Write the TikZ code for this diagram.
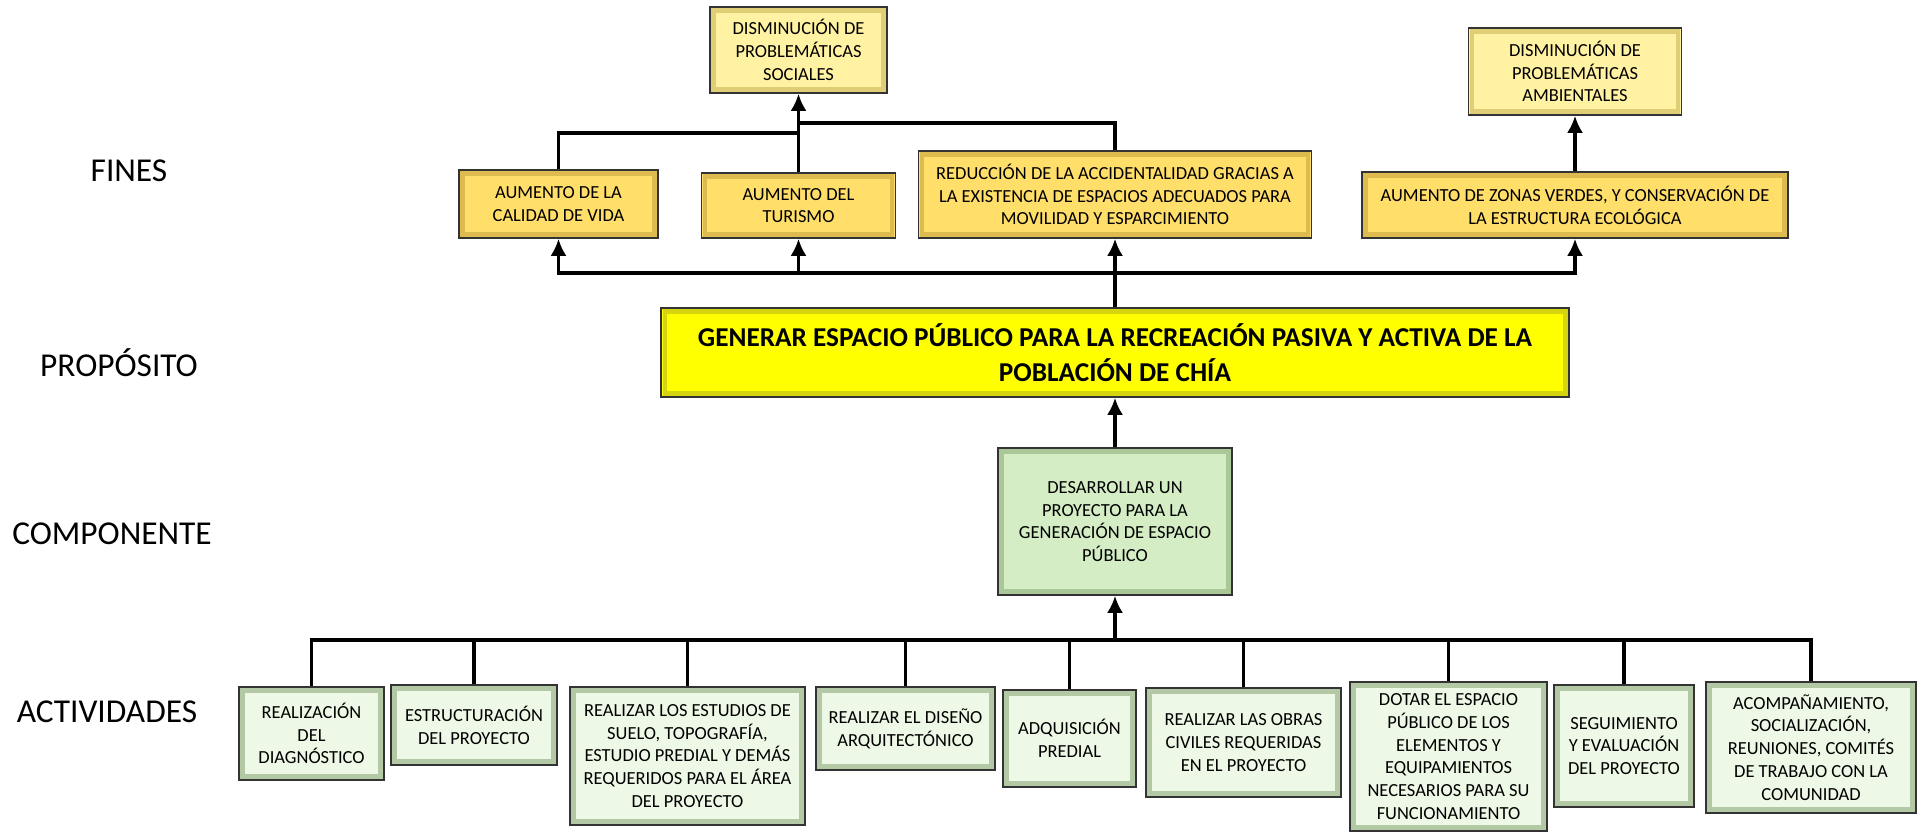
\documentclass[tikz,border=0pt]{standalone}
\usepackage{fontspec}
\setmainfont{Carlito}
\usetikzlibrary{arrows.meta,positioning}
\definecolor{fin_gold}{HTML}{FFDE6A}
\definecolor{fin_gold_rim}{HTML}{DDBB4E}
\definecolor{fin_light}{HTML}{FFF2A3}
\definecolor{fin_light_rim}{HTML}{E0CE76}
\definecolor{prop_yellow}{HTML}{FFFF00}
\definecolor{prop_rim}{HTML}{D6D610}
\definecolor{comp_green}{HTML}{D4EDC5}
\definecolor{comp_rim}{HTML}{AAC798}
\definecolor{act_green}{HTML}{EEF8E6}
\definecolor{act_rim}{HTML}{B3C8A4}

\begin{document}
\begin{tikzpicture}[
    auto,
    x=0.02cm, y=-0.02cm,
    levellabel/.style={align=center, font=\fontsize{19}{23}\selectfont},
    box/.style={rectangle, draw=black!80, line width=0.9pt, align=center, inner sep=1pt, font=\fontsize{10.5}{13}\selectfont},
    rim/.style={path picture={\draw[#1, line width=2.4pt] ([shift={(2pt,2pt)}]path picture bounding box.south west) rectangle ([shift={(-2pt,-2pt)}]path picture bounding box.north east);}},
    goldbox/.style={box, fill=fin_gold, rim=fin_gold_rim},
    lightbox/.style={box, fill=fin_light, rim=fin_light_rim},
    propbox/.style={box, fill=prop_yellow, rim=prop_rim, font=\fontsize{15.5}{20}\selectfont\bfseries},
    compbox/.style={box, fill=comp_green, rim=comp_rim},
    actbox/.style={box, fill=act_green, rim=act_rim},
    normalline/.style={-{Latex[length=3.4mm, width=3.2mm]}, line width=0.65mm},
    plainline/.style={line width=0.65mm},
  ]
  \useasboundingbox (0,0) rectangle (1923,832);

  % Levels
  \node[levellabel] (fineslabel) at (129,171) {FINES};
  \node[levellabel] (propositolabel) at (119,363) {PROPÓSITO};
  \node[levellabel] (componentelabel) at (112,534) {COMPONENTE};
  \node[levellabel] (actividadeslabel) at (107,712) {ACTIVIDADES};

  % Fines
  \node[lightbox, minimum width=3.54cm, minimum height=1.72cm] (social) at (798.5, 50) {DISMINUCIÓN DE\\PROBLEMÁTICAS\\SOCIALES};
  \node[lightbox, minimum width=4.26cm, minimum height=1.74cm] (ambiental) at (1575, 71.5) {DISMINUCIÓN DE\\PROBLEMÁTICAS\\AMBIENTALES};
  \node[goldbox, minimum width=3.98cm, minimum height=1.36cm] (calidad) at (558.5, 204) {AUMENTO DE LA\\CALIDAD DE VIDA};
  \node[goldbox, minimum width=3.88cm, minimum height=1.30cm] (turismo) at (798.5, 205.5) {AUMENTO DEL\\TURISMO};
  \node[goldbox, minimum width=7.86cm, minimum height=1.74cm] (reduccion) at (1115, 194.5) {REDUCCIÓN DE LA ACCIDENTALIDAD GRACIAS A\\LA EXISTENCIA DE ESPACIOS ADECUADOS PARA\\MOVILIDAD Y ESPARCIMIENTO};
  \node[goldbox, minimum width=8.52cm, minimum height=1.32cm] (zonas) at (1575, 205) {AUMENTO DE ZONAS VERDES, Y CONSERVACIÓN DE\\LA ESTRUCTURA ECOLÓGICA};

  % Proposito and componente
  \node[propbox, minimum width=18.16cm, minimum height=1.78cm] (proposito) at (1115, 352.5) {GENERAR ESPACIO PÚBLICO PARA LA RECREACIÓN PASIVA Y ACTIVA DE LA\\POBLACIÓN DE CHÍA};
  \node[compbox, minimum width=4.68cm, minimum height=2.94cm] (componente) at (1115, 521.5) {DESARROLLAR UN\\PROYECTO PARA LA\\GENERACIÓN DE ESPACIO\\PÚBLICO};

  % Actividades
  \node[actbox, minimum width=2.90cm, minimum height=1.86cm] (act1) at (311.5, 733.5) {REALIZACIÓN\\DEL\\DIAGNÓSTICO};
  \node[actbox, minimum width=3.32cm, minimum height=1.60cm] (act2) at (474, 725) {ESTRUCTURACIÓN\\DEL PROYECTO};
  \node[actbox, minimum width=4.70cm, minimum height=2.76cm] (act3) at (687.5, 756) {REALIZAR LOS ESTUDIOS DE\\SUELO, TOPOGRAFÍA,\\ESTUDIO PREDIAL Y DEMÁS\\REQUERIDOS PARA EL ÁREA\\DEL PROYECTO};
  \node[actbox, minimum width=3.58cm, minimum height=1.66cm] (act4) at (905.5, 728.5) {REALIZAR EL DISEÑO\\ARQUITECTÓNICO};
  \node[actbox, minimum width=2.66cm, minimum height=1.94cm] (act5) at (1069.5, 738.5) {ADQUISICIÓN\\PREDIAL};
  \node[actbox, minimum width=3.90cm, minimum height=2.18cm] (act6) at (1243.5, 742.5) {REALIZAR LAS OBRAS\\CIVILES REQUERIDAS\\EN EL PROYECTO};
  \node[actbox, minimum width=3.94cm, minimum height=2.98cm] (act7) at (1448.5, 756.5) {DOTAR EL ESPACIO\\PÚBLICO DE LOS\\ELEMENTOS Y\\EQUIPAMIENTOS\\NECESARIOS PARA SU\\FUNCIONAMIENTO};
  \node[actbox, minimum width=2.80cm, minimum height=2.44cm] (act8) at (1624, 746) {SEGUIMIENTO\\Y EVALUACIÓN\\DEL PROYECTO};
  \node[actbox, minimum width=4.20cm, minimum height=2.62cm] (act9) at (1811, 747.5) {ACOMPAÑAMIENTO,\\SOCIALIZACIÓN,\\REUNIONES, COMITÉS\\DE TRABAJO CON LA\\COMUNIDAD};

  % connection lines
  \coordinate (finbar) at (1115, 273);
  \coordinate (actbar) at (1115, 640);
  \coordinate (sociallow) at (798.5, 133);
  \coordinate (socialhigh) at (798.5, 123);

  \draw [normalline] (turismo.north) -- (social.south);
  \draw [plainline] (calidad.north) |- (sociallow);
  \draw [plainline] (reduccion.north) |- (socialhigh);
  \draw [normalline] (zonas.north) -- (ambiental.south);

  \draw [normalline] (proposito.north) -- (reduccion.south);
  \draw [normalline] (finbar) -| (calidad.south);
  \draw [normalline] (finbar) -| (zonas.south);
  \draw [normalline] (turismo.south |- finbar) -- (turismo.south);

  \draw [normalline] (componente.north) -- (proposito.south);
  \draw [normalline] (actbar) -- (componente.south);

  \draw [plainline] (act1.north) |- (actbar) -| (act9.north);
  \draw [plainline] (act2.north) -- (act2.north |- actbar);
  \draw [plainline] (act3.north) -- (act3.north |- actbar);
  \draw [plainline] (act4.north) -- (act4.north |- actbar);
  \draw [plainline] (act5.north) -- (act5.north |- actbar);
  \draw [plainline] (act6.north) -- (act6.north |- actbar);
  \draw [plainline] (act7.north) -- (act7.north |- actbar);
  \draw [plainline] (act8.north) -- (act8.north |- actbar);

\end{tikzpicture}
\end{document}
